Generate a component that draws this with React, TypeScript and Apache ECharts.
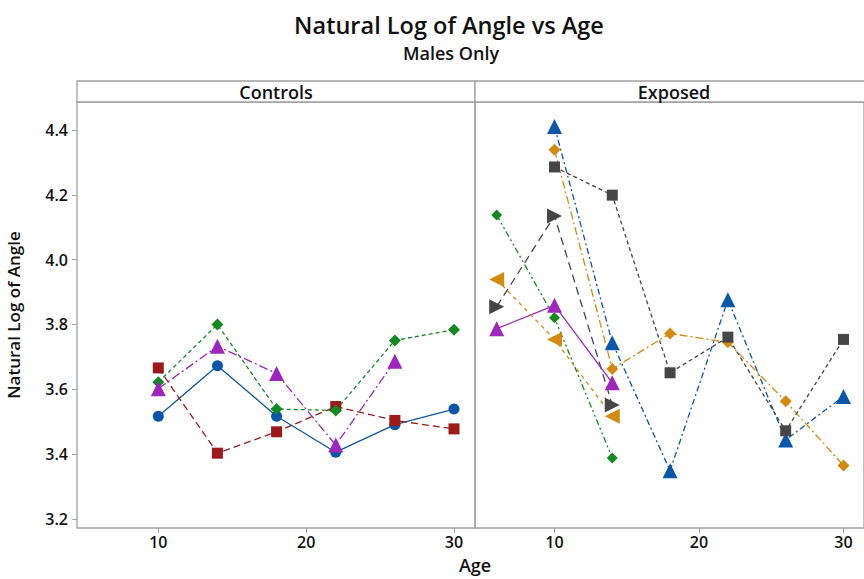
import React, { useEffect, useRef } from "react";
import * as echarts from "echarts";

const yTicks = [3.2, 3.4, 3.6, 3.8, 4.0, 4.2, 4.4];
const xTicks = [10, 20, 30];
const panels = ["Controls", "Exposed"];

const ageControls = [10, 14, 18, 22, 26, 30];
const ctrlCircle = [3.517, 3.673, 3.517, 3.406, 3.491, 3.539];
const ctrlSquare = [3.666, 3.403, 3.469, 3.547, 3.504, 3.478];
const ctrlDiamond = [3.622, 3.8, 3.539, 3.535, 3.751, 3.784];
const ageCtrlTri = [10, 14, 18, 22, 26];
const ctrlTriangle = [3.602, 3.733, 3.649, 3.428, 3.687];

const ageExpLong = [10, 14, 18, 22, 26, 30];
const expBlueTri = [4.411, 3.744, 3.349, 3.876, 3.444, 3.578];
const expOrangeDia = [4.339, 3.663, 3.772, 3.745, 3.563, 3.365];
const expGreySq = [4.286, 4.199, 3.651, 3.761, 3.472, 3.754];
const ageExpShort = [6, 10, 14];
const expGreyRtri = [3.855, 4.135, 3.552];
const expGreenDia = [4.138, 3.821, 3.388];
const expPurpleTri = [3.787, 3.859, 3.62];
const expOrangeLtri = [3.939, 3.754, 3.517];

const BLUE = "#0A56A8";
const RED = "#9E1A1A";
const GREEN = "#138A20";
const PURPLE = "#9E26BC";
const ORANGE = "#D48A0E";
const GREY = "#464646";
const FRAME = "#A0A0A0";
const FONT = "Open Sans";

function pairs(xs: number[], ys: number[]) {
  return xs.map((x, i) => [x, ys[i]]);
}

function mk(
  grid: number,
  xs: number[],
  ys: number[],
  color: string,
  symbol: string,
  size: number,
  dash: any,
  rotate = 0
) {
  return {
    type: "line",
    xAxisIndex: grid,
    yAxisIndex: grid,
    data: pairs(xs, ys),
    symbol,
    symbolSize: size,
    symbolRotate: rotate,
    showAllSymbol: true,
    lineStyle: { color, width: 1.3, type: dash },
    itemStyle: { color, borderWidth: 0 },
    emphasis: { disabled: true },
  };
}

export default function App() {
  const ref = useRef<HTMLDivElement>(null);
  useEffect(() => {
    if (!ref.current) return;
    const chart = echarts.init(ref.current, null, { renderer: "svg" });
    const gridLeft = [77, 475];
    const xAxes = gridLeft.map((_, i) => ({
      type: "value",
      gridIndex: i,
      min: 4.5,
      max: 31.42,
      axisLine: { show: false },
      axisTick: {
        show: true,
        length: 5,
        lineStyle: { color: FRAME },
        customValues: xTicks,
      },
      axisLabel: {
        customValues: xTicks,
        color: "#111",
        fontSize: 16,
        fontFamily: FONT,
        fontWeight: 600,
        margin: 6,
      },
      splitLine: { show: false },
    }));
    const yAxes = gridLeft.map((_, i) => ({
      type: "value",
      gridIndex: i,
      min: 3.1722,
      max: 4.4864,
      axisLine: { show: false },
      axisTick: {
        show: i === 0,
        length: 5,
        lineStyle: { color: FRAME },
        customValues: yTicks,
      },
      axisLabel: {
        show: i === 0,
        customValues: yTicks,
        color: "#111",
        fontSize: 16,
        fontFamily: FONT,
        fontWeight: 600,
        margin: 9,
        formatter: (v: number) => v.toFixed(1),
      },
      splitLine: { show: false },
      name: i === 0 ? "Natural Log of Angle" : "",
      nameLocation: "middle",
      nameGap: 54,
      nameRotate: 90,
      nameTextStyle: { color: "#111", fontSize: 17, fontFamily: FONT, fontWeight: 600, lineHeight: 20 },
    }));
    chart.setOption({
      animation: false,
      backgroundColor: "#fff",
      grid: gridLeft.map((l) => ({
        left: l,
        top: 102,
        width: 398,
        height: 426,
        show: true,
        borderColor: FRAME,
        borderWidth: 1.3,
        backgroundColor: "transparent",
      })),
      xAxis: xAxes,
      yAxis: yAxes,
      graphic: [
        ...gridLeft.map((l, i) => ({
          type: "group",
          children: [
            {
              type: "rect",
              shape: { x: l, y: 81, width: 398, height: 21 },
              style: { fill: "#fff", stroke: FRAME, lineWidth: 1.3 },
            },
            {
              type: "text",
              x: l + 199,
              y: 91.5,
              style: {
                text: panels[i],
                fill: "#111",
                font: `600 18px "${FONT}"`,
                textAlign: "center",
                textVerticalAlign: "middle",
              },
            },
          ],
        })),
        {
          type: "text",
          x: 449,
          y: 25,
          style: {
            text: "Natural Log of Angle vs Age",
            fill: "#111",
            font: `600 23.5px "${FONT}"`,
            textAlign: "center",
            textVerticalAlign: "middle",
          },
        },
        {
          type: "text",
          x: 451,
          y: 53,
          style: {
            text: "Males Only",
            fill: "#111",
            font: `600 18px "${FONT}"`,
            textAlign: "center",
            textVerticalAlign: "middle",
          },
        },
        {
          type: "text",
          x: 475,
          y: 565,
          style: {
            text: "Age",
            fill: "#111",
            font: `600 18px "${FONT}"`,
            textAlign: "center",
            textVerticalAlign: "middle",
          },
        },
      ],
      series: [
        mk(0, ageControls, ctrlCircle, BLUE, "circle", 11, "solid"),
        mk(0, ageControls, ctrlSquare, RED, "rect", 11, [7, 4]),
        mk(0, ageControls, ctrlDiamond, GREEN, "diamond", 12, [4, 3]),
        mk(0, ageCtrlTri, ctrlTriangle, PURPLE, "triangle", 15, [9, 3, 2, 3]),
        mk(1, ageExpLong, expBlueTri, BLUE, "triangle", 15, [6, 3, 2, 3]),
        mk(1, ageExpLong, expOrangeDia, ORANGE, "diamond", 12, [8, 3, 2, 3]),
        mk(1, ageExpLong, expGreySq, GREY, "rect", 11, [4, 3]),
        mk(1, ageExpShort, expGreyRtri, GREY, "triangle", 15, [8, 5], -90),
        mk(1, ageExpShort, expGreenDia, GREEN, "diamond", 11, [6, 3, 2, 3, 2, 3]),
        mk(1, ageExpShort, expPurpleTri, PURPLE, "triangle", 15, "solid"),
        mk(1, ageExpShort, expOrangeLtri, ORANGE, "triangle", 15, [4, 4], 90),
      ],
    });
    return () => chart.dispose();
  }, []);
  return (
    <div
      ref={ref}
      style={{ position: "fixed", left: 0, top: 0, width: 864, height: 579 }}
    />
  );
}
